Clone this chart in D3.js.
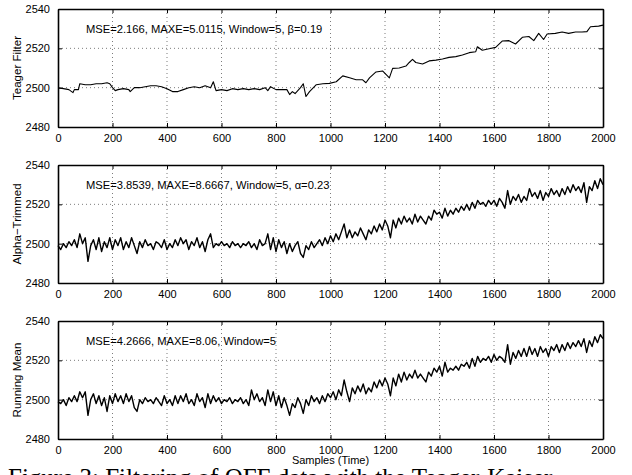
<!DOCTYPE html>
<html>
<head>
<meta charset="utf-8">
<script src="https://cdn.jsdelivr.net/npm/d3@7"></script>
<style>
  html, body { margin: 0; padding: 0; background: #fff; overflow: hidden; }
  svg { display: block; }
  text { font-family: "Liberation Sans", Arial, Helvetica, sans-serif; }
</style>
</head>
<body>
<svg id="chart" width="632" height="475"></svg>
<script>
// x ticks / y ticks shared by all three panels
const xTicks = [0, 200, 400, 600, 800, 1000, 1200, 1400, 1600, 1800, 2000];
const yTicks = [2480, 2500, 2520, 2540];

// Teager filter output
const teagerX = [0, 20, 40, 55, 60, 75, 80, 100, 120, 140, 160, 180, 190, 200, 210, 220, 240, 260, 265, 280, 300, 320, 340, 360, 380,
  400, 420, 440, 460, 480, 500, 520, 540, 560, 570, 580, 600, 620, 640, 660, 680, 700, 720, 740, 760, 770, 780, 800, 820, 840,
  850, 860, 870, 880, 890, 900, 910, 923, 948, 972, 996, 1021, 1045, 1070, 1094, 1118, 1130, 1143, 1167, 1191, 1216, 1228, 1252,
  1277, 1289, 1301, 1313, 1338, 1362, 1387, 1411, 1435, 1460, 1484, 1509, 1533, 1539, 1557, 1582, 1606, 1630, 1655, 1679, 1704,
  1728, 1746, 1764, 1782, 1795, 1825, 1850, 1874, 1899, 1923, 1941, 1954, 1984, 2000];
const teagerY = [2500, 2499.5, 2499, 2497.5, 2499, 2499, 2502, 2501.5, 2501.5, 2502, 2502, 2502.5, 2502, 2500, 2498.5, 2499, 2499.5, 2499, 2498, 2500, 2500, 2500.5, 2501, 2501, 2500.5,
  2499.5, 2498, 2498, 2499, 2500, 2500.5, 2500, 2501, 2500, 2503, 2498.5, 2499, 2498.5, 2499.5, 2499, 2499.5, 2499, 2499.5, 2499, 2500, 2498.5, 2500.5, 2499, 2499, 2499,
  2496.5, 2498, 2497, 2498.5, 2500, 2502, 2495.5, 2498, 2501.5, 2502, 2502.2, 2503, 2506, 2505, 2504, 2504, 2502.5, 2505, 2508, 2508.5, 2505, 2509.8, 2510,
  2511, 2512.8, 2514.4, 2512.8, 2512, 2513.6, 2514, 2514.6, 2515.4, 2515.8, 2516.6, 2517.8, 2518.3, 2520.8, 2519, 2519.8, 2520.5, 2523.7, 2523.9, 2522.2, 2525.6,
  2526, 2523.9, 2527.6, 2524.5, 2527.3, 2527.6, 2528.3, 2527.6, 2528.3, 2528.3, 2528.5, 2531, 2531.3, 2531.8];

// alpha-trimmed and running mean outputs, one value every 10 samples
const alphaY = [2499, 2497, 2500, 2498, 2501, 2499, 2502, 2498, 2505, 2500, 2503, 2491, 2499, 2502, 2497, 2503, 2496, 2501, 2498, 2503,
  2497, 2502, 2499, 2503, 2497, 2501, 2498, 2503, 2499, 2495, 2501, 2498, 2502, 2499, 2500, 2497, 2501, 2500, 2498, 2502,
  2497, 2500, 2498, 2502, 2499, 2503, 2500, 2502, 2497, 2501, 2499, 2503, 2498, 2501, 2496, 2502, 2505, 2498, 2500, 2499,
  2501, 2499, 2500, 2498, 2501, 2499, 2500, 2498, 2500, 2499, 2501, 2498, 2500, 2497, 2502, 2499, 2500, 2505, 2497, 2503,
  2496, 2502, 2498, 2501, 2495, 2500, 2496, 2499, 2501, 2495, 2493, 2499, 2497, 2501, 2498, 2500, 2502, 2499, 2503, 2500,
  2504, 2501, 2505, 2502, 2506, 2510, 2503, 2507, 2503, 2506, 2504, 2508, 2505, 2502, 2507, 2505, 2509, 2506, 2510, 2507,
  2512, 2509, 2503, 2512, 2508, 2513, 2510, 2514, 2511, 2513, 2510, 2515, 2511, 2514, 2512, 2510, 2514, 2512, 2517, 2515,
  2516, 2513, 2518, 2514, 2517, 2515, 2518, 2516, 2519, 2517, 2520, 2517, 2521, 2518, 2522, 2520, 2521, 2519, 2522, 2520,
  2522, 2519, 2523, 2521, 2518, 2527, 2520, 2524, 2522, 2525, 2521, 2524, 2522, 2528, 2524, 2526, 2523, 2527, 2522, 2526,
  2524, 2528, 2525, 2527, 2524, 2528, 2525, 2529, 2526, 2530, 2527, 2529, 2526, 2531, 2521, 2529, 2527, 2532, 2528, 2533,
  2530];
const meanY = [2499, 2498, 2500, 2497, 2501, 2499, 2502, 2499, 2504, 2501, 2504, 2492, 2500, 2503, 2498, 2502, 2497, 2501, 2494, 2502,
  2498, 2503, 2499, 2502, 2498, 2503, 2499, 2502, 2496, 2494, 2500, 2498, 2501, 2499, 2500, 2498, 2501, 2499, 2497, 2502,
  2498, 2500, 2497, 2502, 2498, 2502, 2499, 2503, 2498, 2500, 2497, 2503, 2499, 2501, 2496, 2503, 2498, 2502, 2499, 2501,
  2498, 2500, 2499, 2501, 2498, 2500, 2499, 2501, 2498, 2500, 2497, 2505, 2500, 2503, 2499, 2501, 2497, 2505, 2499, 2504,
  2497, 2502, 2496, 2501, 2497, 2492, 2498, 2496, 2501, 2498, 2493, 2500, 2497, 2502, 2499, 2501, 2498, 2502, 2499, 2503,
  2501, 2504, 2500, 2505, 2502, 2510, 2504, 2499, 2506, 2503, 2507, 2504, 2508, 2503, 2506, 2504, 2509, 2506, 2510, 2507,
  2511, 2508, 2502, 2511, 2507, 2513, 2509, 2514, 2510, 2513, 2511, 2515, 2511, 2513, 2511, 2509, 2514, 2512, 2516, 2514,
  2517, 2512, 2519, 2514, 2516, 2515, 2517, 2515, 2518, 2517, 2519, 2516, 2521, 2517, 2522, 2519, 2521, 2520, 2522, 2519,
  2523, 2520, 2522, 2521, 2519, 2528, 2518, 2524, 2521, 2525, 2522, 2526, 2522, 2527, 2523, 2526, 2522, 2527, 2524, 2526,
  2522, 2527, 2525, 2528, 2524, 2528, 2525, 2529, 2526, 2529, 2527, 2530, 2527, 2531, 2524, 2530, 2527, 2532, 2529, 2533,
  2531];
const sampleX = d3.range(0, 2001, 10);

const panels = [
  {label: "Teager Filter", note: "MSE=2.166, MAXE=5.0115, Window=5, \u03b2=0.19", xs: teagerX, ys: teagerY, lw: 1.1},
  {label: "Alpha\u2212Trimmed", note: "MSE=3.8539, MAXE=8.6667, Window=5, \u03b1=0.23", xs: sampleX, ys: alphaY, lw: 1.4},
  {label: "Running Mean", note: "MSE=4.2666, MAXE=8.06, Window=5", xs: sampleX, ys: meanY, lw: 1.4}
];

const svg = d3.select("#chart");
const left = 58, right = 603, ph = 118;
const tops = [9, 165, 321];
const fontSans = '"Liberation Sans", Arial, Helvetica, sans-serif';

const x = d3.scaleLinear().domain([0, 2000]).range([left, right]);

panels.forEach((p, i) => {
  const top = tops[i];
  const y = d3.scaleLinear().domain([2480, 2540]).range([top + ph, top]);
  const g = svg.append("g");

  // dotted grid
  g.selectAll(".gx").data(xTicks.slice(1, -1)).enter().append("line")
    .attr("x1", x).attr("x2", x).attr("y1", top).attr("y2", top + ph)
    .attr("stroke", "#444").attr("stroke-width", 0.7).attr("stroke-dasharray", "1,3");
  g.selectAll(".gy").data(yTicks.slice(1, -1)).enter().append("line")
    .attr("x1", left).attr("x2", right).attr("y1", y).attr("y2", y)
    .attr("stroke", "#444").attr("stroke-width", 0.7).attr("stroke-dasharray", "1,3");

  // data
  const line = d3.line().x((d, k) => x(p.xs[k])).y(d => y(d));
  g.append("path").datum(p.ys)
    .attr("d", line)
    .attr("fill", "none").attr("stroke", "#000").attr("stroke-width", p.lw)
    .attr("stroke-linejoin", "round");

  // axes (inward ticks, box on)
  const fmt = d3.format("d");
  const ax = g.append("g").attr("transform", `translate(0,${top + ph})`)
    .call(d3.axisBottom(x).tickValues(xTicks).tickFormat(fmt).tickSizeInner(-4).tickSizeOuter(0).tickPadding(7));
  const axTop = g.append("g").attr("transform", `translate(0,${top})`)
    .call(d3.axisTop(x).tickValues(xTicks).tickSizeInner(-4).tickSizeOuter(0).tickFormat(""));
  const ay = g.append("g").attr("transform", `translate(${left},0)`)
    .call(d3.axisLeft(y).tickValues(yTicks).tickFormat(fmt).tickSizeInner(-4).tickSizeOuter(0).tickPadding(8));
  const ayR = g.append("g").attr("transform", `translate(${right},0)`)
    .call(d3.axisRight(y).tickValues(yTicks).tickSizeInner(-4).tickSizeOuter(0).tickFormat(""));
  [ax, axTop, ay, ayR].forEach(a => {
    a.attr("font-family", fontSans);
    a.select(".domain").attr("stroke", "#000").attr("stroke-width", 1.6);
    a.selectAll(".tick line").attr("stroke", "#000").attr("stroke-width", 1);
    a.selectAll("text").attr("font-size", 11).attr("fill", "#000");
  });

  // y label
  g.append("text")
    .attr("transform", `translate(21,${top + ph / 2}) rotate(-90)`)
    .attr("text-anchor", "middle")
    .attr("font-size", 11.5)
    .text(p.label);

  // annotation
  g.append("text")
    .attr("x", 86).attr("y", top + 24)
    .attr("font-size", 11.2)
    .text(p.note);
});

svg.append("text")
  .attr("x", (left + right) / 2).attr("y", 464)
  .attr("text-anchor", "middle").attr("font-size", 11)
  .text("Samples (Time)");

// figure caption, cut by the bottom edge as in the scan
svg.append("text")
  .attr("x", 8).attr("y", 486)
  .style("font-family", '"Liberation Serif", "Times New Roman", serif')
  .attr("font-size", 25)
  .text("Figure 3: Filtering of OFF data with the Teager-Kaiser");
</script>
</body>
</html>
